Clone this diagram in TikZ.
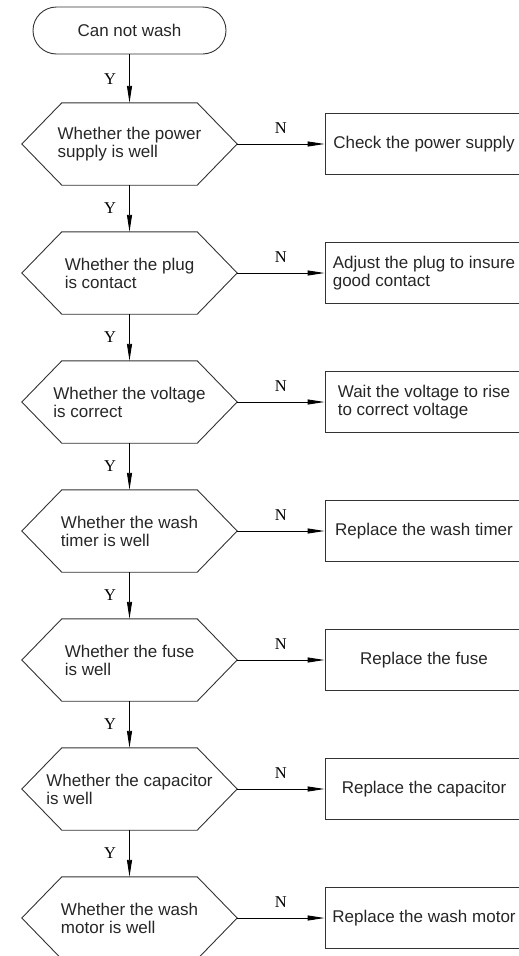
\documentclass[tikz,border=0pt]{standalone}
\usepackage{fontspec}
\setmainfont{Liberation Sans}
\newfontfamily\ynfont{Liberation Serif}
\usetikzlibrary{positioning,arrows.meta}

\begin{document}
\begin{tikzpicture}[
        x=1pt, y=1pt,
        node distance=129pt,
        font=\fontsize{17}{18}\selectfont,
        startstop/.style={rectangle, rounded corners=23.5pt, draw=black!80, line width=0.9pt, minimum width=193pt, minimum height=47pt, text=black!85},
        decision/.style={rectangle, minimum width=215pt, minimum height=82pt, inner sep=0pt, align=left, text=black!85,
            append after command={\pgfextra{\draw[black!80, line width=0.9pt, line join=miter]
                (\tikzlastnode.west) -- ([xshift=40pt]\tikzlastnode.north west) -- ([xshift=-40pt]\tikzlastnode.north east)
                -- (\tikzlastnode.east) -- ([xshift=-40pt]\tikzlastnode.south east) -- ([xshift=40pt]\tikzlastnode.south west) -- cycle;}}},
        action/.style={rectangle, draw=black!80, line width=0.9pt, minimum width=198pt, minimum height=61pt, align=left, text=black!85},
        arrow/.style={line width=0.9pt, -{Triangle[length=17pt,width=5pt]}},
        yn/.style={font=\ynfont\fontsize{16.5}{18}\selectfont, inner sep=0pt, text=black}
    ]
        \useasboundingbox (0,0) rectangle (519,-956);

        \node[startstop] (start) at (129.5,-30.5) {Can not wash};
        \node[decision] (power) [below of=start, yshift=15.5pt] {Whether the power\\supply is well};
        \node[decision] (plug) [below of=power] {Whether the plug\\is contact};
        \node[decision] (voltage) [below of=plug] {Whether the voltage\\is correct};
        \node[decision] (timer) [below of=voltage] {Whether the wash\\timer is well};
        \node[decision] (fuse) [below of=timer] {Whether the fuse\\is well};
        \node[decision] (capacitor) [below of=fuse] {Whether the capacitor\\is well};
        \node[decision] (motor) [below of=capacitor] {Whether the wash\\motor is well};

        \node[action] (checkpower) [right of=power, xshift=165.5pt] {Check the power supply};
        \node[action] (adjustplug) [right of=plug, xshift=165.5pt] {Adjust the plug to insure\\good contact};
        \node[action] (waitvoltage) [right of=voltage, xshift=165.5pt] {Wait the voltage to rise\\to correct voltage};
        \node[action] (newtimer) [right of=timer, xshift=165.5pt] {Replace the wash timer};
        \node[action] (newfuse) [right of=fuse, xshift=165.5pt] {Replace the fuse};
        \node[action] (newcapacitor) [right of=capacitor, xshift=165.5pt] {Replace the capacitor};
        \node[action] (newmotor) [right of=motor, xshift=165.5pt] {Replace the wash motor};

        \draw[arrow] (start) -- node[yn, left=13pt] {Y} (power);
        \draw[arrow] (power) -- node[yn, left=13pt] {Y} (plug);
        \draw[arrow] (plug) -- node[yn, left=13pt] {Y} (voltage);
        \draw[arrow] (voltage) -- node[yn, left=13pt] {Y} (timer);
        \draw[arrow] (timer) -- node[yn, left=13pt] {Y} (fuse);
        \draw[arrow] (fuse) -- node[yn, left=13pt] {Y} (capacitor);
        \draw[arrow] (capacitor) -- node[yn, left=13pt] {Y} (motor);

        \draw[arrow] (power) -- node[yn, above=10pt] {N} (checkpower);
        \draw[arrow] (plug) -- node[yn, above=10pt] {N} (adjustplug);
        \draw[arrow] (voltage) -- node[yn, above=10pt] {N} (waitvoltage);
        \draw[arrow] (timer) -- node[yn, above=10pt] {N} (newtimer);
        \draw[arrow] (fuse) -- node[yn, above=10pt] {N} (newfuse);
        \draw[arrow] (capacitor) -- node[yn, above=10pt] {N} (newcapacitor);
        \draw[arrow] (motor) -- node[yn, above=10pt] {N} (newmotor);
    \end{tikzpicture}
\end{document}
